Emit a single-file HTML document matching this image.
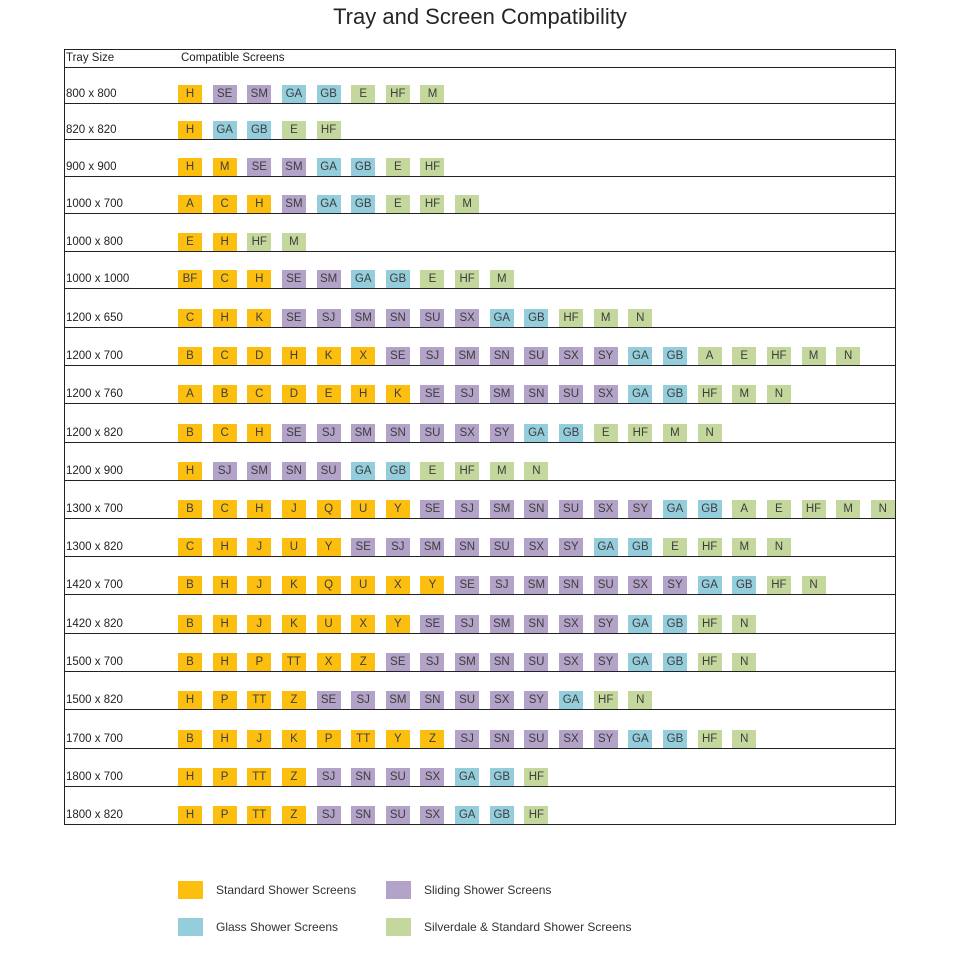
<!DOCTYPE html>
<html><head><meta charset="utf-8"><style>
*{margin:0;padding:0;box-sizing:border-box}
body{width:960px;height:960px;background:#fff;position:relative;overflow:hidden;font-family:"Liberation Sans",Arial,sans-serif;color:#2a2a2a}
.title{position:absolute;left:0;width:960px;top:4px;text-align:center;font-size:22px;color:#262626}
.hl{position:absolute;left:64px;width:832px;height:1px;background:#222}
.vl{position:absolute;top:49px;height:776px;width:1px;background:#222}
.hd{position:absolute;top:50px;font-size:11.5px;line-height:17px;color:#222}
.lab{position:absolute;left:66px;font-size:11.5px;line-height:19px;height:18px;color:#222}
.r{position:absolute;left:178px;height:18px;display:flex;gap:10.65px}
.r div{width:24px;height:18px;line-height:19px;text-align:center;font-size:11.5px;color:#3d3d3d;flex:none}
.o{background:#FCBF10}.p{background:#B3A3C8}.b{background:#94CDDC}.g{background:#C4D79C}
.lg{position:absolute;width:25px;height:18px}
.lt{position:absolute;font-size:12px;line-height:18px;color:#333}
</style></head><body>
<div class="title">Tray and Screen Compatibility</div>
<div class="hl" style="top:49px"></div>
<div class="hl" style="top:67px"></div>
<div class="vl" style="left:64px"></div>
<div class="vl" style="left:895px"></div>
<div class="hd" style="left:66px">Tray Size</div>
<div class="hd" style="left:181px">Compatible Screens</div>

<div class="hl" style="top:103px"></div>
<div class="hl" style="top:139px"></div>
<div class="hl" style="top:176px"></div>
<div class="hl" style="top:213px"></div>
<div class="hl" style="top:251px"></div>
<div class="hl" style="top:288px"></div>
<div class="hl" style="top:327px"></div>
<div class="hl" style="top:365px"></div>
<div class="hl" style="top:403px"></div>
<div class="hl" style="top:442px"></div>
<div class="hl" style="top:480px"></div>
<div class="hl" style="top:518px"></div>
<div class="hl" style="top:556px"></div>
<div class="hl" style="top:594px"></div>
<div class="hl" style="top:633px"></div>
<div class="hl" style="top:671px"></div>
<div class="hl" style="top:709px"></div>
<div class="hl" style="top:748px"></div>
<div class="hl" style="top:786px"></div>
<div class="hl" style="top:824px"></div>

<div class="lab" style="top:85px">800 x 800</div>
<div class="r" style="top:85px"><div class="o">H</div><div class="p">SE</div><div class="p">SM</div><div class="b">GA</div><div class="b">GB</div><div class="g">E</div><div class="g">HF</div><div class="g">M</div></div>

<div class="lab" style="top:121px">820 x 820</div>
<div class="r" style="top:121px"><div class="o">H</div><div class="b">GA</div><div class="b">GB</div><div class="g">E</div><div class="g">HF</div></div>

<div class="lab" style="top:158px">900 x 900</div>
<div class="r" style="top:158px"><div class="o">H</div><div class="o">M</div><div class="p">SE</div><div class="p">SM</div><div class="b">GA</div><div class="b">GB</div><div class="g">E</div><div class="g">HF</div></div>

<div class="lab" style="top:195px">1000 x 700</div>
<div class="r" style="top:195px"><div class="o">A</div><div class="o">C</div><div class="o">H</div><div class="p">SM</div><div class="b">GA</div><div class="b">GB</div><div class="g">E</div><div class="g">HF</div><div class="g">M</div></div>

<div class="lab" style="top:233px">1000 x 800</div>
<div class="r" style="top:233px"><div class="o">E</div><div class="o">H</div><div class="g">HF</div><div class="g">M</div></div>

<div class="lab" style="top:270px">1000 x 1000</div>
<div class="r" style="top:270px"><div class="o">BF</div><div class="o">C</div><div class="o">H</div><div class="p">SE</div><div class="p">SM</div><div class="b">GA</div><div class="b">GB</div><div class="g">E</div><div class="g">HF</div><div class="g">M</div></div>

<div class="lab" style="top:309px">1200 x 650</div>
<div class="r" style="top:309px"><div class="o">C</div><div class="o">H</div><div class="o">K</div><div class="p">SE</div><div class="p">SJ</div><div class="p">SM</div><div class="p">SN</div><div class="p">SU</div><div class="p">SX</div><div class="b">GA</div><div class="b">GB</div><div class="g">HF</div><div class="g">M</div><div class="g">N</div></div>

<div class="lab" style="top:347px">1200 x 700</div>
<div class="r" style="top:347px"><div class="o">B</div><div class="o">C</div><div class="o">D</div><div class="o">H</div><div class="o">K</div><div class="o">X</div><div class="p">SE</div><div class="p">SJ</div><div class="p">SM</div><div class="p">SN</div><div class="p">SU</div><div class="p">SX</div><div class="p">SY</div><div class="b">GA</div><div class="b">GB</div><div class="g">A</div><div class="g">E</div><div class="g">HF</div><div class="g">M</div><div class="g">N</div></div>

<div class="lab" style="top:385px">1200 x 760</div>
<div class="r" style="top:385px"><div class="o">A</div><div class="o">B</div><div class="o">C</div><div class="o">D</div><div class="o">E</div><div class="o">H</div><div class="o">K</div><div class="p">SE</div><div class="p">SJ</div><div class="p">SM</div><div class="p">SN</div><div class="p">SU</div><div class="p">SX</div><div class="b">GA</div><div class="b">GB</div><div class="g">HF</div><div class="g">M</div><div class="g">N</div></div>

<div class="lab" style="top:424px">1200 x 820</div>
<div class="r" style="top:424px"><div class="o">B</div><div class="o">C</div><div class="o">H</div><div class="p">SE</div><div class="p">SJ</div><div class="p">SM</div><div class="p">SN</div><div class="p">SU</div><div class="p">SX</div><div class="p">SY</div><div class="b">GA</div><div class="b">GB</div><div class="g">E</div><div class="g">HF</div><div class="g">M</div><div class="g">N</div></div>

<div class="lab" style="top:462px">1200 x 900</div>
<div class="r" style="top:462px"><div class="o">H</div><div class="p">SJ</div><div class="p">SM</div><div class="p">SN</div><div class="p">SU</div><div class="b">GA</div><div class="b">GB</div><div class="g">E</div><div class="g">HF</div><div class="g">M</div><div class="g">N</div></div>

<div class="lab" style="top:500px">1300 x 700</div>
<div class="r" style="top:500px"><div class="o">B</div><div class="o">C</div><div class="o">H</div><div class="o">J</div><div class="o">Q</div><div class="o">U</div><div class="o">Y</div><div class="p">SE</div><div class="p">SJ</div><div class="p">SM</div><div class="p">SN</div><div class="p">SU</div><div class="p">SX</div><div class="p">SY</div><div class="b">GA</div><div class="b">GB</div><div class="g">A</div><div class="g">E</div><div class="g">HF</div><div class="g">M</div><div class="g">N</div></div>

<div class="lab" style="top:538px">1300 x 820</div>
<div class="r" style="top:538px"><div class="o">C</div><div class="o">H</div><div class="o">J</div><div class="o">U</div><div class="o">Y</div><div class="p">SE</div><div class="p">SJ</div><div class="p">SM</div><div class="p">SN</div><div class="p">SU</div><div class="p">SX</div><div class="p">SY</div><div class="b">GA</div><div class="b">GB</div><div class="g">E</div><div class="g">HF</div><div class="g">M</div><div class="g">N</div></div>

<div class="lab" style="top:576px">1420 x 700</div>
<div class="r" style="top:576px"><div class="o">B</div><div class="o">H</div><div class="o">J</div><div class="o">K</div><div class="o">Q</div><div class="o">U</div><div class="o">X</div><div class="o">Y</div><div class="p">SE</div><div class="p">SJ</div><div class="p">SM</div><div class="p">SN</div><div class="p">SU</div><div class="p">SX</div><div class="p">SY</div><div class="b">GA</div><div class="b">GB</div><div class="g">HF</div><div class="g">N</div></div>

<div class="lab" style="top:615px">1420 x 820</div>
<div class="r" style="top:615px"><div class="o">B</div><div class="o">H</div><div class="o">J</div><div class="o">K</div><div class="o">U</div><div class="o">X</div><div class="o">Y</div><div class="p">SE</div><div class="p">SJ</div><div class="p">SM</div><div class="p">SN</div><div class="p">SX</div><div class="p">SY</div><div class="b">GA</div><div class="b">GB</div><div class="g">HF</div><div class="g">N</div></div>

<div class="lab" style="top:653px">1500 x 700</div>
<div class="r" style="top:653px"><div class="o">B</div><div class="o">H</div><div class="o">P</div><div class="o">TT</div><div class="o">X</div><div class="o">Z</div><div class="p">SE</div><div class="p">SJ</div><div class="p">SM</div><div class="p">SN</div><div class="p">SU</div><div class="p">SX</div><div class="p">SY</div><div class="b">GA</div><div class="b">GB</div><div class="g">HF</div><div class="g">N</div></div>

<div class="lab" style="top:691px">1500 x 820</div>
<div class="r" style="top:691px"><div class="o">H</div><div class="o">P</div><div class="o">TT</div><div class="o">Z</div><div class="p">SE</div><div class="p">SJ</div><div class="p">SM</div><div class="p">SN</div><div class="p">SU</div><div class="p">SX</div><div class="p">SY</div><div class="b">GA</div><div class="g">HF</div><div class="g">N</div></div>

<div class="lab" style="top:730px">1700 x 700</div>
<div class="r" style="top:730px"><div class="o">B</div><div class="o">H</div><div class="o">J</div><div class="o">K</div><div class="o">P</div><div class="o">TT</div><div class="o">Y</div><div class="o">Z</div><div class="p">SJ</div><div class="p">SN</div><div class="p">SU</div><div class="p">SX</div><div class="p">SY</div><div class="b">GA</div><div class="b">GB</div><div class="g">HF</div><div class="g">N</div></div>

<div class="lab" style="top:768px">1800 x 700</div>
<div class="r" style="top:768px"><div class="o">H</div><div class="o">P</div><div class="o">TT</div><div class="o">Z</div><div class="p">SJ</div><div class="p">SN</div><div class="p">SU</div><div class="p">SX</div><div class="b">GA</div><div class="b">GB</div><div class="g">HF</div></div>

<div class="lab" style="top:806px">1800 x 820</div>
<div class="r" style="top:806px"><div class="o">H</div><div class="o">P</div><div class="o">TT</div><div class="o">Z</div><div class="p">SJ</div><div class="p">SN</div><div class="p">SU</div><div class="p">SX</div><div class="b">GA</div><div class="b">GB</div><div class="g">HF</div></div>

<div class="lg o" style="left:178px;top:881px"></div>
<div class="lt" style="left:216px;top:881px">Standard Shower Screens</div>
<div class="lg p" style="left:386px;top:881px"></div>
<div class="lt" style="left:424px;top:881px">Sliding Shower Screens</div>
<div class="lg b" style="left:178px;top:918px"></div>
<div class="lt" style="left:216px;top:918px">Glass Shower Screens</div>
<div class="lg g" style="left:386px;top:918px"></div>
<div class="lt" style="left:424px;top:918px">Silverdale &amp; Standard Shower Screens</div>
</body></html>
